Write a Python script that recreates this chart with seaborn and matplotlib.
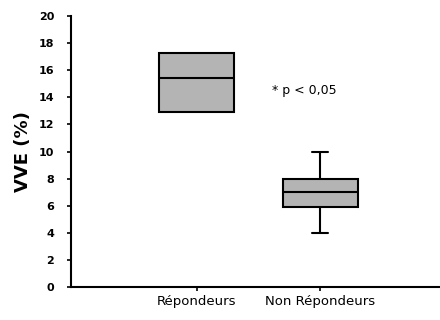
import matplotlib
matplotlib.use("Agg")
import matplotlib.pyplot as plt
import seaborn as sns
import pandas as pd

# Groups and observed VVE (%) values per group
groups = ["Répondeurs", "Non Répondeurs"]
vve_repondeurs = [12.9, 12.9, 15.4, 17.3, 17.3]
vve_non_repondeurs = [4.0, 5.9, 7.0, 8.0, 10.0]
y_ticks = [0, 2, 4, 6, 8, 10, 12, 14, 16, 18, 20]
annotation = "* p < 0,05"

df = pd.DataFrame({
    "groupe": [groups[0]] * len(vve_repondeurs) + [groups[1]] * len(vve_non_repondeurs),
    "vve": vve_repondeurs + vve_non_repondeurs,
})

sns.set_theme(style="ticks")
plt.rcParams["font.family"] = ["DejaVu Sans"]
plt.rcParams["text.color"] = "black"
plt.rcParams["axes.labelcolor"] = "black"

fig = plt.figure(figsize=(4.4, 3.2), dpi=100)
ax = fig.add_axes([0.161, 0.103, 0.839, 0.847])

box_width = 0.61
sns.boxplot(data=df, x="groupe", y="vve", order=groups, ax=ax,
            color="#b4b4b4", linecolor="black", linewidth=1.5,
            width=box_width, whis=1.5, showfliers=False, saturation=1)

# narrow whisker caps; drop caps of zero-length whiskers
whisker_ends = set()
for line in ax.lines:
    xd = list(line.get_xdata())
    yd = list(line.get_ydata())
    if len(xd) == 2 and xd[0] == xd[1] and yd[0] == yd[1]:
        whisker_ends.add((round(xd[0], 3), round(yd[0], 3)))
for line in ax.lines:
    xd = list(line.get_xdata())
    yd = list(line.get_ydata())
    if len(xd) == 2 and yd[0] == yd[1] and abs(xd[1] - xd[0]) < box_width * 0.9:
        c = (xd[0] + xd[1]) / 2
        if (round(c, 3), round(yd[0], 3)) in whisker_ends:
            line.set_visible(False)
        else:
            line.set_xdata([c - 0.065, c + 0.065])

ax.set_xlim(-1.02, 1.97)
ax.set_ylim(0, 20)
ax.set_yticks(y_ticks)
ax.set_yticklabels([str(v) for v in y_ticks], fontsize=8, fontweight="bold")
ax.tick_params(axis="y", length=3, width=1.2, pad=9, colors="black")
ax.tick_params(axis="x", length=3, width=1.2, pad=3, labelsize=9.5, colors="black")
ax.set_xlabel("")
ax.set_ylabel("VVE (%)", fontsize=13, fontweight="bold", labelpad=5)

for side in ("top", "right"):
    ax.spines[side].set_visible(False)
for side in ("left", "bottom"):
    ax.spines[side].set_linewidth(1.5)
    ax.spines[side].set_color("black")

ax.text(0.87, 14.5, annotation, fontsize=9, ha="center", va="center")

fig.savefig("out.png", dpi=100)
